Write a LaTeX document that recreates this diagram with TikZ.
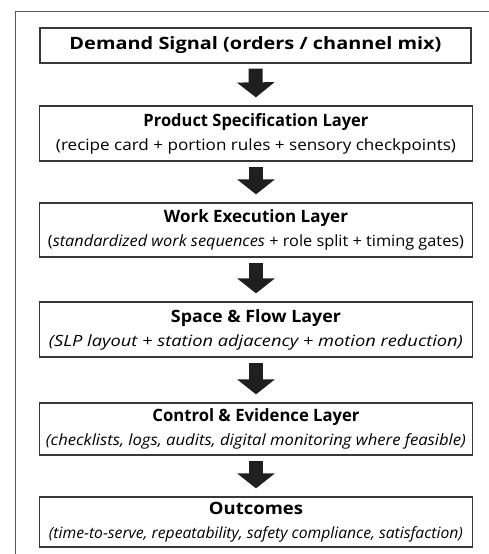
\documentclass[tikz,border=0pt]{standalone}
\usepackage{fontspec}
\usepackage{graphicx}
\setmainfont{Open Sans}
\usetikzlibrary{arrows.meta,calc}
\begin{document}
\begin{tikzpicture}[x=1pt,y=-1pt,
  layer/.style={draw=black!78, line width=1.3pt, fill=white, minimum width=433pt, inner sep=0pt, align=center, font=\fontsize{15.5}{24}\selectfont},
  flowarrow/.style={draw=black!88, line width=14pt, -{Triangle[width=37pt,length=15pt]}, shorten <=5pt, shorten >=8pt}
]
\newcommand\ttl[2]{\resizebox{#1pt}{\height}{\bfseries\fontsize{17}{20}\selectfont #2}}
\newcommand\sub[2]{\resizebox{#1pt}{\height}{#2}}
\useasboundingbox (0,0) rectangle (489,554);
\fill[white] (0,0) rectangle (489,554);
\draw[black!65, line width=0.9pt] (15,560) -- (15,11.5) -- (495,11.5);

\node[layer, minimum height=35pt, minimum width=431pt] (demand) at (255.5,45.5) {\ttl{372}{Demand Signal (orders / channel mix)}};
\node[layer, minimum height=55pt] (prod) at (256,133.5) {\ttl{225}{Product Specification Layer}\\\sub{400}{(recipe card + portion rules + sensory checkpoints)}};
\node[layer, minimum height=54pt] (work) at (256,230) {\ttl{184}{Work Execution Layer}\\\sub{416}{({\itshape standardized work sequences} + role split + timing gates)}};
\node[layer, minimum height=55pt] (space) at (256,329.5) {\ttl{170}{Space \& Flow Layer}\\\sub{414}{\itshape (SLP layout + station adjacency + motion reduction)}};
\node[layer, minimum height=52pt] (ctrl) at (256,429) {\ttl{207}{Control \& Evidence Layer}\\\sub{420}{\itshape (checklists, logs, audits, digital monitoring where feasible)}};
\node[layer, minimum height=50pt] (out) at (256,522) {\ttl{94}{Outcomes}\\\sub{414}{\itshape (time-to-serve, repeatability, safety compliance, satisfaction)}};

\draw[flowarrow] (demand.south) -- (prod.north);
\draw[flowarrow] (prod.south) -- (work.north);
\draw[flowarrow] (work.south) -- (space.north);
\draw[flowarrow] (space.south) -- (ctrl.north);
\draw[flowarrow] (ctrl.south) -- (out.north);
\end{tikzpicture}
\end{document}
